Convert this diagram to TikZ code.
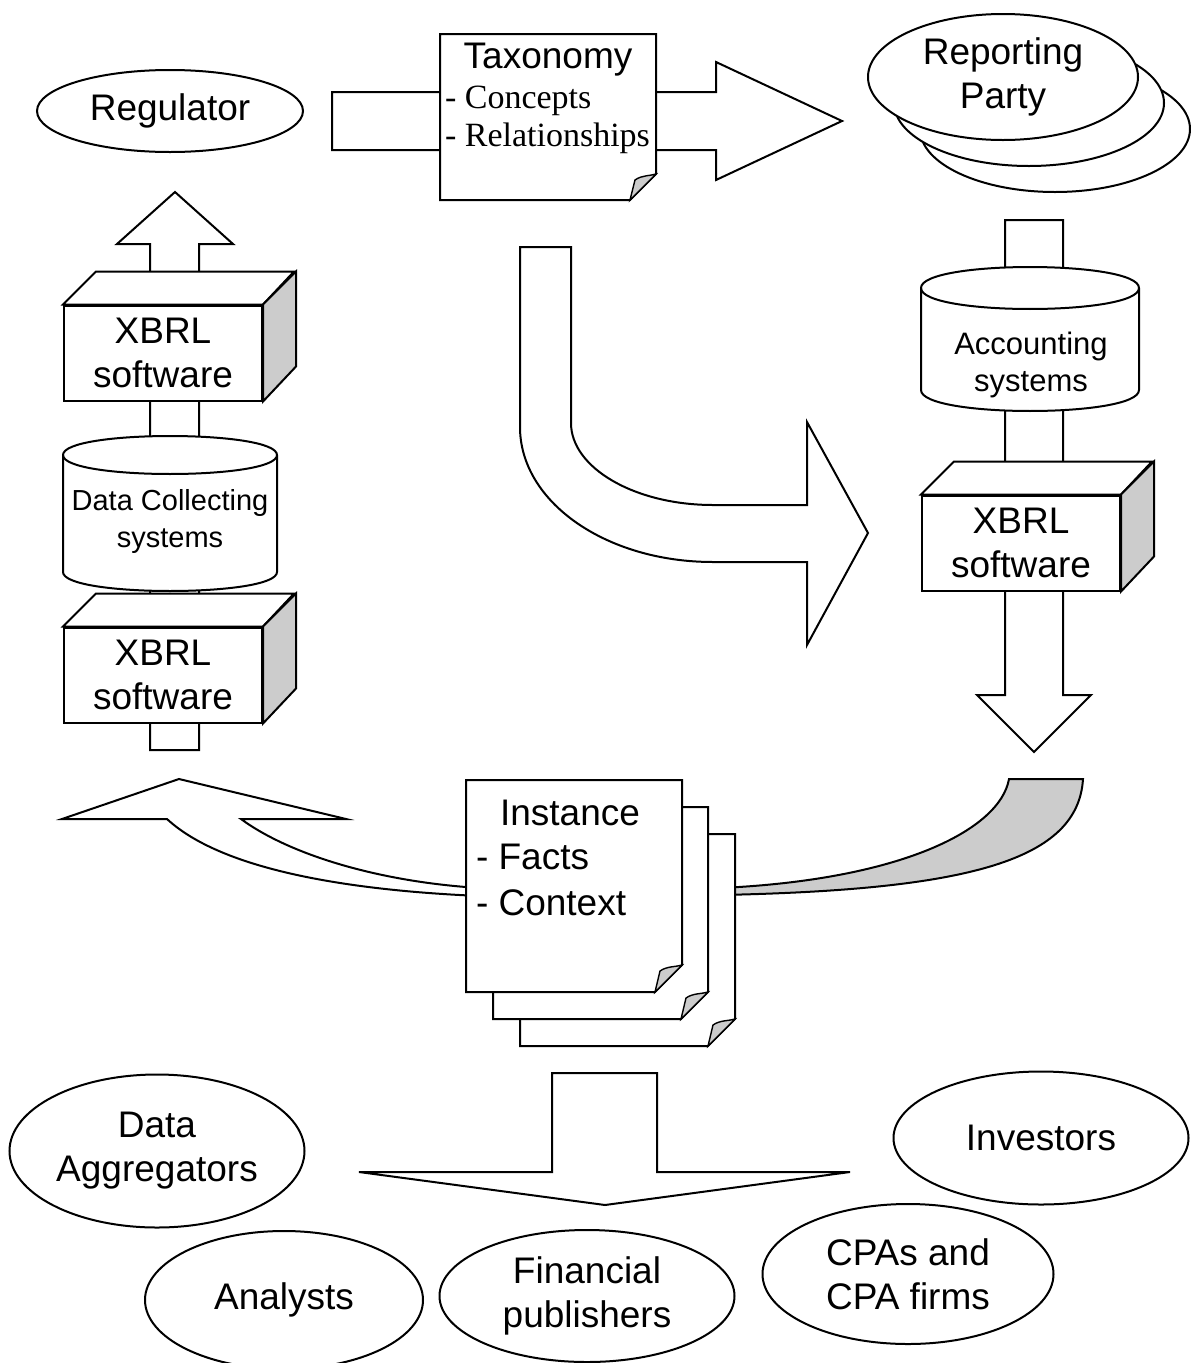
\documentclass[tikz,border=0pt]{standalone}
\usepackage{fontspec}
\setmainfont{Liberation Sans}
\newfontfamily\serifface{Liberation Serif}
\usetikzlibrary{shapes.geometric}

% box with a folded lower-right corner: x1 y1 x2 y2 fold
\newcommand\foldeddoc[5]{%
  \draw[fill=white] (#1,#2) -- (#3,#2) -- (#3,{#4-#5}) -- ({#3-#5},#4) -- (#1,#4) -- cycle;
  \draw[fill=black!20, line width=1.4pt] ({#3-#5},#4) -- ({#3-#5+5},{#4-#5+6})
     .. controls ({#3-#5+12},{#4-#5+1}) and ({#3-6},{#4-#5+2}) .. (#3,{#4-#5}) -- cycle;}

% drum: centre x, x radius, top ellipse y, bottom ellipse y, y radius
\newcommand\drum[5]{%
  \draw[fill=white] ({#1-#2},#3) -- ({#1-#2},#4)
     .. controls ({#1-#2},{#4+1.333*#5}) and ({#1+#2},{#4+1.333*#5}) .. ({#1+#2},#4)
     -- ({#1+#2},#3)
     .. controls ({#1+#2},{#3-1.333*#5}) and ({#1-#2},{#3-1.333*#5}) .. ({#1-#2},#3) -- cycle;
  \draw ({#1-#2},#3) .. controls ({#1-#2},{#3+1.333*#5}) and ({#1+#2},{#3+1.333*#5}) .. ({#1+#2},#3);}

\begin{document}
\begin{tikzpicture}[x=1pt, y=-1pt, line width=2pt, line join=miter,
  every node/.style={font=\fontsize{37}{44}\selectfont, align=center, inner sep=0pt},
  oval/.style={ellipse, draw, fill=white, inner sep=0pt},
  blockarrow/.style={draw, fill=white},
  sidefill/.style={fill=black!20},
  softbox/.style={draw, fill=white, minimum width=198pt, minimum height=95pt},
  listitem/.style={anchor=west},
  smalltext/.style={font=\fontsize{29}{37}\selectfont},
  midtext/.style={font=\fontsize{31}{37}\selectfont},
  seriftext/.style={anchor=west, font=\serifface\fontsize{34}{37}\selectfont}]

\useasboundingbox (0,0) rectangle (1191,1363);

% ---------- top row ----------
\node[oval, minimum width=266pt, minimum height=82pt] (regulator) at (170,111) {Regulator};

\draw[blockarrow] (332,92) -- (716,92) -- (716,62) -- (842,121) -- (716,180) -- (716,150) -- (332,150) -- cycle;
\foldeddoc{440}{34}{656}{200}{26}
\node (taxonomy) at (548,60) {Taxonomy};
\node[seriftext] (concepts) at (444,101) {- Concepts};
\node[seriftext] (relations) at (444,138) {- Relationships};

\node[oval, minimum width=270pt, minimum height=126pt] (party3) at (1055,129) {};
\node[oval, minimum width=270pt, minimum height=126pt] (party2) at (1029,103) {};
\node[oval, minimum width=270pt, minimum height=126pt] (party) at (1003,77) {Reporting\\Party};

% ---------- right column ----------
\draw[blockarrow] (1005,220) -- (1063,220) -- (1063,695) -- (1091,695) -- (1034,752)
   -- (977,695) -- (1005,695) -- cycle;
\drum{1030}{109}{288}{390}{21}
\node[midtext] (accounting) at (1031,365) {Accounting\\systems};
\node[softbox] (xbrlC) at (1021,543) {XBRL\\software};
\draw[fill=white] (xbrlC.north west) -- ++(33,-33) -- ++(198,0) -- (xbrlC.north east) -- cycle;
\draw[sidefill] (xbrlC.north east) -- ++(33,-33) -- ++(0,95) -- (xbrlC.south east) -- cycle;

% ---------- left column ----------
\draw[blockarrow] (150,750) -- (150,244) -- (117,244) -- (175,192) -- (233,244) -- (199,244)
   -- (199,750) -- cycle;
\node[softbox] (xbrlA) at (163,353) {XBRL\\software};
\draw[fill=white] (xbrlA.north west) -- ++(33,-33) -- ++(198,0) -- (xbrlA.north east) -- cycle;
\draw[sidefill] (xbrlA.north east) -- ++(33,-33) -- ++(0,95) -- (xbrlA.south east) -- cycle;
\drum{170}{107}{455}{572}{19}
\node[smalltext] (collecting) at (170,521) {Data Collecting\\systems};
\node[softbox] (xbrlB) at (163,675) {XBRL\\software};
\draw[fill=white] (xbrlB.north west) -- ++(33,-33) -- ++(198,0) -- (xbrlB.north east) -- cycle;
\draw[sidefill] (xbrlB.north east) -- ++(33,-33) -- ++(0,95) -- (xbrlB.south east) -- cycle;

% ---------- bent arrow in the middle ----------
\draw[blockarrow] (520,247) -- (571,247) -- (571,423)
   .. controls (571,468) and (635,505) .. (713,505) -- (807,505) -- (807,422) -- (868,533)
   -- (807,645) -- (807,562) -- (713,562)
   .. controls (606,562) and (520,502) .. (520,427) -- cycle;

% ---------- instance documents and their sweep ----------
\draw[blockarrow] (480,888) .. controls (380,882) and (290,855) .. (241,819) -- (346,819)
   -- (179,779) -- (62,819) -- (167,819)
   .. controls (220,868) and (340,890) .. (480,896) -- cycle;
\draw[draw, fill=black!20] (1009,779) -- (1083,779)
   .. controls (1078,860) and (970,890) .. (720,895) -- (720,888)
   .. controls (900,880) and (1000,830) .. (1009,779) -- cycle;

\foldeddoc{520}{834}{735}{1046}{27}
\foldeddoc{493}{807}{708}{1019}{27}
\foldeddoc{466}{780}{682}{992}{27}
\node (instance) at (570,813) {Instance};
\node[listitem] (facts) at (475,857) {- Facts};
\node[listitem] (context) at (475,903) {- Context};

% ---------- distribution arrow ----------
\draw[blockarrow] (552,1073) -- (657,1073) -- (657,1172) -- (850,1172) -- (605,1205)
   -- (359,1172) -- (552,1172) -- cycle;

% ---------- consumers ----------
\node[oval, minimum width=295pt, minimum height=153pt] (aggregators) at (157,1151) {Data\\Aggregators};
\node[oval, minimum width=295pt, minimum height=133pt] (investors) at (1041,1138) {Investors};
\node[oval, minimum width=278pt, minimum height=138pt] (analysts) at (284,1300) {Analysts};
\node[oval, minimum width=295pt, minimum height=132pt] (publishers) at (587,1296) {Financial\\publishers};
\node[oval, minimum width=291pt, minimum height=140pt] (cpas) at (908,1274) {CPAs and\\CPA firms};
\end{tikzpicture}
\end{document}
